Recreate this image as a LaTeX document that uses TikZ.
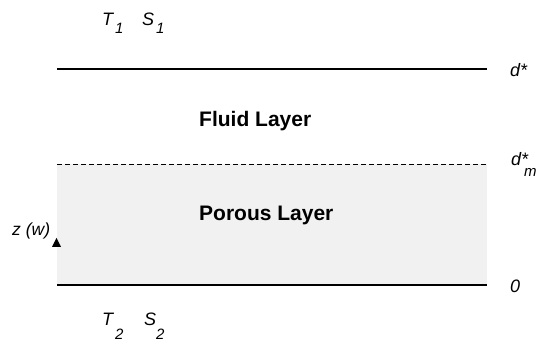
\documentclass[tikz,border=0pt]{standalone}
\usepackage{fontspec}
\setmainfont{Liberation Sans}
\begin{document}
\begin{tikzpicture}[x=1pt,y=1pt,
  lbl/.style={inner sep=0pt,anchor=base west,font=\fontsize{18}{20}\selectfont\itshape},
  sub/.style={inner sep=0pt,anchor=base west,font=\fontsize{15}{17}\selectfont\itshape},
  bold/.style={inner sep=0pt,anchor=base west,font=\fontsize{21}{24}\selectfont\bfseries},
  solidline/.style={line width=1.6pt},
  dashline/.style={line width=0.7pt,dash pattern=on 5pt off 3pt}]
\useasboundingbox (0,0) rectangle (541,353);
% layer boundaries
\coordinate (tl) at (57,284);
\coordinate (tr) at (487,284);
\coordinate (ml) at (57,189);
\coordinate (mr) at (487,189);
\coordinate (bl) at (57,68);
\coordinate (br) at (487,68);
\fill[gray!11] (bl) rectangle (mr);
\draw[solidline] (tl) -- (tr);
\draw[dashline] (ml) -- (mr);
\draw[solidline] (bl) -- (br);
% axis marker
\fill (52,106) -- (61,106) -- (56.5,115) -- cycle;
% labels
\node[lbl] (t1) at (102,327) {T};
\node[sub] (t1s) at (115,319) {1};
\node[lbl] (s1) at (142,327) {S};
\node[sub] (s1s) at (156,319) {1};
\node[lbl] (t2) at (102,27) {T};
\node[sub] (t2s) at (115,13) {2};
\node[lbl] (s2) at (144,27) {S};
\node[sub] (s2s) at (156,13) {2};
\node[lbl] (d) at (510,276) {d*};
\node[lbl] (dm) at (511,187) {d*};
\node[sub] (m) at (524,176) {m};
\node[lbl] (zero) at (510,60) {0};
\node[lbl,font=\fontsize{17.5}{19}\selectfont\itshape] (z) at (12,117) {z (w)};
\node[bold] (fluid) at (199,226) {Fluid Layer};
\node[bold] (porous) at (199,132) {Porous Layer};
\end{tikzpicture}
\end{document}
